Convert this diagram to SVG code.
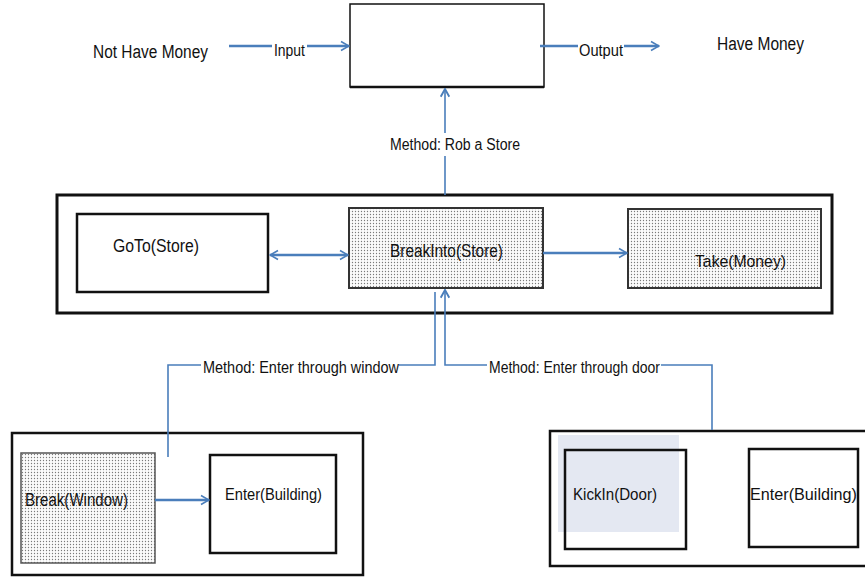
<svg xmlns="http://www.w3.org/2000/svg" width="865" height="577" viewBox="0 0 865 577">
<defs>
<pattern id="dots" width="3" height="3" patternUnits="userSpaceOnUse">
<rect width="3" height="3" fill="#fbfbfb"/>
<circle cx="1.5" cy="1.5" r="0.65" fill="#7a7a7a"/>
</pattern>
<marker id="arr" viewBox="0 0 10 10" refX="9" refY="5" markerWidth="4" markerHeight="5.5" orient="auto-start-reverse" markerUnits="strokeWidth">
<path d="M1,0.5 L9,5 L1,9.5" fill="none" stroke="#4a7ebb" stroke-width="1.6"/>
</marker>
<marker id="arrT" viewBox="0 0 10 10" refX="9" refY="5" markerWidth="6" markerHeight="6" orient="auto" markerUnits="strokeWidth">
<path d="M1,0.5 L9,5 L1,9.5" fill="none" stroke="#4a7ebb" stroke-width="2"/>
</marker>
<style>
text{font-family:"Liberation Sans",Arial,sans-serif;fill:#111}
.box{fill:#fff;stroke:#111;stroke-width:2.5}
.frame{fill:#fff;stroke:#111;stroke-width:3}
.dot{fill:url(#dots);stroke:#333;stroke-width:2}
.thick{fill:none;stroke:#4a7ebb;stroke-width:2.5}
.thin{fill:none;stroke:#4a7ebb;stroke-width:1.6}
</style>
</defs>
<rect width="865" height="577" fill="#fff"/>

<g id="top-process">
<rect x="350" y="4" width="194" height="83" fill="#fff" stroke="#111" stroke-width="1.5"/>
<line x1="350" y1="87" x2="544" y2="87" stroke="#111" stroke-width="2.5"/>
</g>
<g id="not-have-money"><text x="93" y="58" font-size="18" textLength="115" lengthAdjust="spacingAndGlyphs">Not Have Money</text></g>
<g id="have-money"><text x="717" y="50" font-size="18" textLength="87" lengthAdjust="spacingAndGlyphs">Have Money</text></g>

<g id="rob-store">
<rect class="frame" x="57" y="195" width="775" height="118"/>
</g>
<g id="goto-store">
<rect class="box" x="77" y="214" width="191" height="78"/>
<text x="113" y="252" font-size="18" textLength="86" lengthAdjust="spacingAndGlyphs">GoTo(Store)</text>
</g>
<g id="breakinto-store">
<rect class="dot" x="349" y="208" width="194" height="80"/>
<text x="390" y="257" font-size="18" textLength="113" lengthAdjust="spacingAndGlyphs">BreakInto(Store)</text>
</g>
<g id="take-money">
<rect class="dot" x="628" y="209" width="193" height="79"/>
<text x="695" y="267" font-size="17" textLength="91" lengthAdjust="spacingAndGlyphs">Take(Money)</text>
</g>

<g id="window-method">
<rect class="box" x="12" y="433" width="351" height="142"/>
</g>
<g id="break-window">
<rect x="21" y="453" width="134" height="110" fill="url(#dots)" stroke="#555" stroke-width="1.5"/>
<text x="25" y="506" font-size="18" textLength="103" lengthAdjust="spacingAndGlyphs">Break(Window)</text>
</g>
<g id="enter-building-1">
<rect class="box" x="210" y="455" width="126" height="98"/>
<text x="225" y="500" font-size="17" textLength="97" lengthAdjust="spacingAndGlyphs">Enter(Building)</text>
</g>

<g id="door-method">
<rect class="box" x="550" y="431" width="320" height="135"/>
</g>
<g id="kickin-door">
<rect x="558" y="435" width="121" height="97" fill="#e4e8f2"/>
<rect x="565" y="450" width="121" height="99" fill="none" stroke="#111" stroke-width="2.5"/>
<text x="573" y="500" font-size="17" textLength="84" lengthAdjust="spacingAndGlyphs">KickIn(Door)</text>
</g>
<g id="enter-building-2">
<rect class="box" x="749" y="449" width="109" height="98"/>
<text x="750" y="500" font-size="17" textLength="107" lengthAdjust="spacingAndGlyphs">Enter(Building)</text>
</g>

<g id="connectors">
<line class="thick" x1="229" y1="46" x2="272" y2="46"/>
<line class="thick" x1="307" y1="46" x2="349" y2="46" marker-end="url(#arr)"/>
<text x="274" y="56" font-size="16" textLength="31" lengthAdjust="spacingAndGlyphs">Input</text>
<line class="thick" x1="540" y1="46" x2="578" y2="46"/>
<line class="thick" x1="624" y1="46" x2="659" y2="46" marker-end="url(#arr)"/>
<text x="579" y="56" font-size="16" textLength="44" lengthAdjust="spacingAndGlyphs">Output</text>

<line class="thin" x1="445" y1="195" x2="445" y2="156"/>
<line class="thin" x1="445" y1="133" x2="445" y2="89" marker-end="url(#arrT)"/>
<text x="390" y="150" font-size="16" textLength="130" lengthAdjust="spacingAndGlyphs">Method: Rob a Store</text>

<line class="thick" x1="270" y1="255" x2="348" y2="255" marker-start="url(#arr)" marker-end="url(#arr)"/>
<line class="thick" x1="543" y1="253" x2="627" y2="253" marker-end="url(#arr)"/>

<polyline class="thin" points="168,457 168,365 201,365"/>
<polyline class="thin" points="399,365 435,365 435,292"/>
<text x="203" y="373" font-size="16" textLength="196" lengthAdjust="spacingAndGlyphs">Method: Enter through window</text>

<polyline class="thin" points="712,430 712,365 661,365"/>
<polyline class="thin" points="487,365 445,365 445,290" marker-end="url(#arrT)"/>
<text x="489" y="373" font-size="16" textLength="171" lengthAdjust="spacingAndGlyphs">Method: Enter through door</text>

<line class="thick" x1="155" y1="500" x2="209" y2="500" marker-end="url(#arr)"/>
</g>
</svg>
